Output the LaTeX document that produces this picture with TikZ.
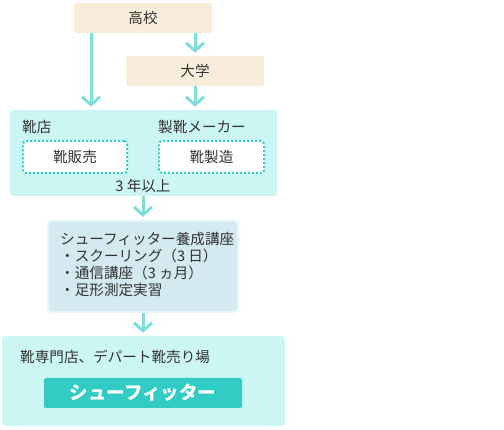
\documentclass[tikz,border=0pt]{standalone}
\usepackage{fontspec}
\setmainfont{Noto Sans CJK JP}
\usetikzlibrary{positioning,calc,arrows.meta}
\definecolor{cBeige}{HTML}{F8EDDA}
\definecolor{cCyan}{HTML}{CCF6F3}
\definecolor{cTeal}{HTML}{33CCC4}
\definecolor{cArrow}{HTML}{7FDED9}
\definecolor{cBlue}{HTML}{D3EAF0}
\definecolor{cPale}{HTML}{E6F5F8}
\definecolor{cText}{HTML}{333333}
\tikzset{SCHOOL/.style={rectangle,rounded corners=2pt,fill=cBeige,minimum width=138pt,minimum height=30pt,inner sep=0pt,text=cText}}
\tikzset{STAGE/.style={rectangle,rounded corners=3pt,fill=cCyan,inner sep=0pt}}
\tikzset{JOB/.style={rectangle,rounded corners=3pt,draw=cTeal,dotted,line width=2pt,fill=white,minimum width=104pt,minimum height=32pt,inner sep=0pt,text=cText}}
\tikzset{LABEL/.style={anchor=west,inner sep=0pt,text=cText}}
\tikzset{ARROW/.style={line width=3pt,draw=cArrow,-{Straight Barb[length=8pt,width=18pt]},shorten >=3pt}}

\begin{document}
\begin{tikzpicture}[x=1pt,y=-1pt,font=\fontsize{14.6pt}{17pt}\selectfont]
\useasboundingbox (0,0) rectangle (504,430);

\node[SCHOOL] (n_highschool) at (143,18) {高校};
\node[SCHOOL] (n_university) at (195,71) {大学};

\node[STAGE, minimum width=267pt, minimum height=86pt] (n_shop) at (143.5,153) {};
\node[LABEL] (n_shop_label) at (22,127) {靴店};
\node[LABEL] (n_maker_label) at (158,127) {製靴メーカー};
\node[JOB] (n_sales) at (75,157) {靴販売};
\node[JOB, minimum width=105pt] (n_making) at (211.5,157) {靴製造};
\node[inner sep=0pt, text=cText] (n_years) at (143,186) {3 年以上};

\node[rectangle, rounded corners=4pt, fill=cBlue, draw=cPale, line width=2pt, minimum width=190pt, minimum height=91pt] (n_course) at (143,266.5) {};
\node[anchor=north west, inner sep=0pt, align=left, text=cText] (n_course_text) at (60,232.5) {
    シューフィッター養成講座 \\
    ・スクーリング（3 日） \\
    ・通信講座（3 ヵ月） \\
    ・足形測定実習
};

\node[STAGE, minimum width=283pt, minimum height=90pt] (n_store) at (143.5,381) {};
\node[LABEL] (n_store_label) at (20,357) {靴専門店、デパート靴売り場};
\node[rectangle, rounded corners=2pt, fill=cTeal, minimum width=198pt, minimum height=30pt, text=white, font=\fontsize{18.5pt}{20pt}\selectfont\bfseries] (n_fitter) at (143,393) {シューフィッター};

\coordinate (c_left) at (91,0);
\coordinate (c_right) at (195,0);
\draw[ARROW] (n_highschool.south -| c_left) -- (n_shop.north -| c_left);
\draw[ARROW] (n_highschool.south -| c_right) -- (n_university.north -| c_right);
\draw[ARROW] (n_university.south -| c_right) -- (n_shop.north -| c_right);
\draw[ARROW] (n_shop.south -| n_course) -- (n_course.north);
\draw[ARROW] (n_course.south) -- (n_store.north -| n_course);

\end{tikzpicture}
\end{document}
